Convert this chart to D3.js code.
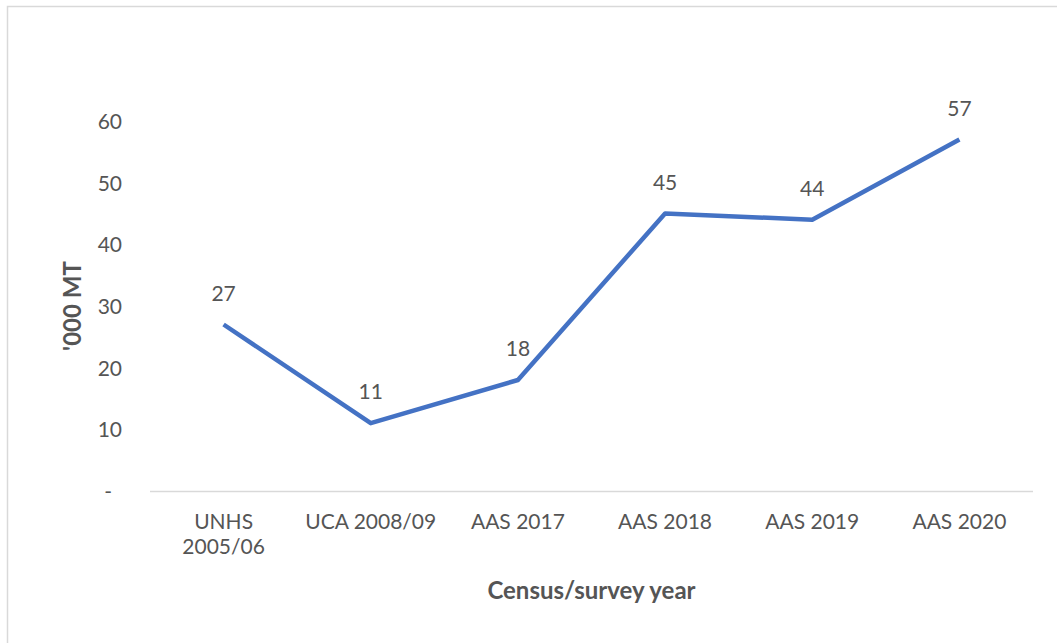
<!DOCTYPE html>
<html>
<head>
<meta charset="utf-8">
<script src="https://cdn.jsdelivr.net/npm/d3@7"></script>
<style>
  body { margin: 0; background: #fff; }
  svg text { font-family: Lato, "Open Sans", sans-serif; fill: #555555; }
</style>
</head>
<body>
<div id="chart"></div>
<script>
// Dữ liệu
const categories = [["UNHS", "2005/06"], ["UCA 2008/09"], ["AAS 2017"], ["AAS 2018"], ["AAS 2019"], ["AAS 2020"]];
const values = [27, 11, 18, 45, 44, 57];
const yTicks = [0, 10, 20, 30, 40, 50, 60];

const W = 1057, H = 643;
const margin = { top: 121, right: 24, bottom: 152, left: 150 };
const width = W - margin.left - margin.right,
      height = H - margin.top - margin.bottom;

const svg = d3.select("#chart").append("svg")
    .attr("width", W)
    .attr("height", H);

// Khung ngoài
svg.append("rect")
    .attr("x", 7.5).attr("y", 6.5)
    .attr("width", W + 10).attr("height", H + 10)
    .attr("fill", "none")
    .attr("stroke", "#d9d9d9")
    .attr("stroke-width", 1.5);

const g = svg.append("g")
    .attr("transform", `translate(${margin.left},${margin.top})`);

const xScale = d3.scaleBand()
    .domain(d3.range(categories.length))
    .range([0, width]);

const yScale = d3.scaleLinear()
    .domain([0, 60])
    .range([height, 0]);

// Trục y (chỉ nhãn)
const yAxis = g.append("g")
    .call(d3.axisLeft(yScale).tickValues(yTicks).tickSize(0).tickPadding(28)
        .tickFormat(d => d === 0 ? "-" : d));
yAxis.select(".domain").remove();
yAxis.selectAll("text")
    .style("font-size", "21px")
    .attr("dy", "0.35em")
    .attr("x", d => d === 0 ? -38 : -28);

// Trục x
g.append("line")
    .attr("x1", 0).attr("x2", width)
    .attr("y1", height + 0.5).attr("y2", height + 0.5)
    .attr("stroke", "#d9d9d9")
    .attr("stroke-width", 1.5);

const xLabels = g.append("g").selectAll("text")
    .data(categories)
    .join("text")
    .attr("x", (d, i) => xScale(i) + xScale.bandwidth() / 2)
    .attr("y", height + 38)
    .attr("text-anchor", "middle")
    .style("font-size", "21px");
xLabels.selectAll("tspan")
    .data(d => d)
    .join("tspan")
    .attr("x", function () { return d3.select(this.parentNode).attr("x"); })
    .attr("dy", (d, i) => i === 0 ? 0 : 25)
    .text(d => d);

// Đường
const line = d3.line()
    .x((d, i) => xScale(i) + xScale.bandwidth() / 2)
    .y(d => yScale(d));

g.append("path")
    .datum(values)
    .attr("d", line)
    .attr("fill", "none")
    .attr("stroke", "#4472C4")
    .attr("stroke-width", 4.5)
    .attr("stroke-linejoin", "round");

// Nhãn dữ liệu
g.selectAll(".lbl")
    .data(values)
    .join("text")
    .attr("class", "lbl")
    .attr("x", (d, i) => xScale(i) + xScale.bandwidth() / 2)
    .attr("y", d => yScale(d) - 24)
    .attr("text-anchor", "middle")
    .style("font-size", "21px")
    .text(d => d);

// Tiêu đề trục
g.append("text")
    .attr("x", width / 2)
    .attr("y", height + 108)
    .attr("text-anchor", "middle")
    .style("font-size", "24px")
    .style("font-weight", "bold")
    .text("Census/survey year");

g.append("text")
    .attr("transform", `translate(-69,${height / 2}) rotate(-90)`)
    .attr("text-anchor", "middle")
    .style("font-size", "24px")
    .style("font-weight", "bold")
    .text("'000 MT");
</script>
</body>
</html>
